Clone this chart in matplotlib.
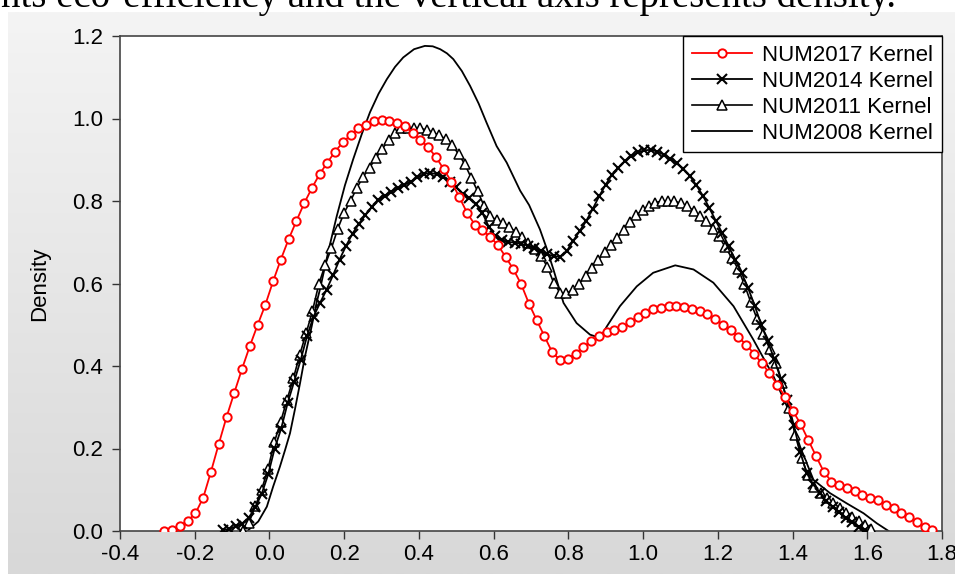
import numpy as np
import matplotlib
matplotlib.use("Agg")
import matplotlib.pyplot as plt

plt.rcParams['font.family'] = ['Liberation Sans', 'DejaVu Sans']

# ---------------- data ----------------
labels = ["NUM2017 Kernel", "NUM2014 Kernel", "NUM2011 Kernel", "NUM2008 Kernel"]

# evaluation grid ends (100 evenly spaced kernel points per series)
grid2017 = (-0.281, 1.774)
grid2014 = (-0.125, 1.594)
grid2011 = (-0.072, 1.611)

y2017 = [0.000, 0.002, 0.012, 0.025, 0.043, 0.081, 0.144, 0.211, 0.276, 0.335,
         0.393, 0.448, 0.499, 0.548, 0.605, 0.658, 0.707, 0.751, 0.794, 0.831,
         0.865, 0.893, 0.920, 0.942, 0.960, 0.976, 0.985, 0.993, 0.996, 0.994,
         0.988, 0.981, 0.966, 0.948, 0.930, 0.907, 0.877, 0.847, 0.810, 0.772,
         0.743, 0.729, 0.713, 0.693, 0.664, 0.634, 0.598, 0.551, 0.511, 0.472,
         0.433, 0.415, 0.417, 0.430, 0.446, 0.460, 0.472, 0.483, 0.488, 0.494,
         0.506, 0.519, 0.529, 0.537, 0.541, 0.545, 0.546, 0.543, 0.538, 0.533,
         0.527, 0.514, 0.500, 0.487, 0.470, 0.452, 0.430, 0.407, 0.383, 0.355,
         0.326, 0.292, 0.260, 0.221, 0.182, 0.144, 0.120, 0.112, 0.104, 0.096,
         0.087, 0.081, 0.074, 0.063, 0.055, 0.044, 0.033, 0.023, 0.010, 0.002]

y2014 = [0.002, 0.005, 0.011, 0.018, 0.032, 0.057, 0.090, 0.137, 0.200, 0.248,
         0.310, 0.362, 0.414, 0.473, 0.520, 0.553, 0.585, 0.620, 0.658, 0.691,
         0.721, 0.745, 0.766, 0.786, 0.802, 0.813, 0.823, 0.831, 0.839, 0.847,
         0.857, 0.866, 0.868, 0.865, 0.858, 0.846, 0.833, 0.818, 0.807, 0.793,
         0.772, 0.738, 0.715, 0.705, 0.701, 0.699, 0.696, 0.692, 0.686, 0.679,
         0.671, 0.666, 0.665, 0.678, 0.703, 0.727, 0.751, 0.780, 0.811, 0.839,
         0.864, 0.881, 0.897, 0.909, 0.918, 0.923, 0.924, 0.920, 0.912, 0.903,
         0.891, 0.878, 0.861, 0.838, 0.813, 0.783, 0.752, 0.722, 0.690, 0.657,
         0.625, 0.588, 0.546, 0.500, 0.460, 0.417, 0.369, 0.318, 0.258, 0.192,
         0.141, 0.113, 0.093, 0.073, 0.058, 0.045, 0.032, 0.021, 0.010, 0.002]

y2011 = [0.000, 0.020, 0.060, 0.100, 0.150, 0.215, 0.265, 0.318, 0.370, 0.427,
         0.479, 0.533, 0.598, 0.645, 0.686, 0.733, 0.772, 0.800, 0.832, 0.859,
         0.881, 0.904, 0.927, 0.947, 0.966, 0.976, 0.978, 0.978, 0.976, 0.972,
         0.966, 0.959, 0.950, 0.935, 0.914, 0.889, 0.856, 0.824, 0.789, 0.763,
         0.754, 0.747, 0.737, 0.725, 0.713, 0.699, 0.683, 0.667, 0.640, 0.601,
         0.577, 0.576, 0.585, 0.600, 0.618, 0.637, 0.657, 0.676, 0.694, 0.711,
         0.730, 0.750, 0.766, 0.778, 0.789, 0.796, 0.800, 0.800, 0.800, 0.794,
         0.788, 0.776, 0.763, 0.752, 0.733, 0.714, 0.688, 0.663, 0.636, 0.598,
         0.555, 0.514, 0.478, 0.441, 0.408, 0.358, 0.297, 0.233, 0.178, 0.135,
         0.106, 0.091, 0.079, 0.067, 0.056, 0.044, 0.035, 0.025, 0.014, 0.006]

x2008 = [-0.057, -0.030, -0.007, 0.010, 0.028, 0.042, 0.055, 0.068, 0.082, 0.095,
         0.113, 0.126, 0.135, 0.158, 0.180, 0.202, 0.224, 0.247, 0.269, 0.292,
         0.314, 0.336, 0.358, 0.387, 0.416, 0.437, 0.457, 0.475, 0.492, 0.515,
         0.537, 0.560, 0.581, 0.608, 0.635, 0.671, 0.695, 0.724, 0.742, 0.760,
         0.787, 0.822, 0.858, 0.885, 0.903, 0.938, 0.983, 1.027, 1.086, 1.135,
         1.188, 1.242, 1.295, 1.349, 1.385, 1.420, 1.456, 1.500, 1.545, 1.590,
         1.625, 1.657]
y2008 = [0.002, 0.023, 0.059, 0.108, 0.156, 0.197, 0.237, 0.294, 0.359, 0.423,
         0.496, 0.553, 0.585, 0.680, 0.763, 0.838, 0.901, 0.962, 1.015, 1.060,
         1.095, 1.125, 1.148, 1.168, 1.176, 1.175, 1.168, 1.158, 1.144, 1.115,
         1.079, 1.036, 0.990, 0.933, 0.893, 0.825, 0.790, 0.731, 0.685, 0.634,
         0.553, 0.504, 0.476, 0.468, 0.496, 0.545, 0.593, 0.626, 0.644, 0.634,
         0.602, 0.545, 0.464, 0.375, 0.302, 0.205, 0.124, 0.092, 0.067, 0.043,
         0.019, 0.000]

xticks = [-0.4, -0.2, 0.0, 0.2, 0.4, 0.6, 0.8, 1.0, 1.2, 1.4, 1.6, 1.8]
yticks = [0.0, 0.2, 0.4, 0.6, 0.8, 1.0, 1.2]
ylabel = "Density"
caption = "nts eco-efficiency and the vertical axis represents density."

# ---------------- figure ----------------
W, H = 955, 574
fig = plt.figure(figsize=(W / 100, H / 100), dpi=100)
fig.patch.set_facecolor("white")

# gray gradient panel behind the chart
bg = fig.add_axes([8 / W, 0, 1 - 8 / W, (H - 12) / H])
grad = np.linspace(244, 216, 256).reshape(-1, 1) / 255.0
bg.imshow(np.dstack([grad, grad, grad]), aspect="auto", extent=[0, 1, 0, 1],
          origin="upper")
bg.set_axis_off()

# cut-off caption line at the very top
fig.text(1 / W, 1 - 6.5 / H, caption, family="Liberation Serif", fontsize=28,
         va="baseline", ha="left", color="black")

ax = fig.add_axes([120 / W, 1 - 531 / H, (942 - 120) / W, (531 - 36) / H])
ax.set_facecolor("white")

x2017 = np.linspace(grid2017[0], grid2017[1], len(y2017))
x2014 = np.linspace(grid2014[0], grid2014[1], len(y2014))
x2011 = np.linspace(grid2011[0], grid2011[1], len(y2011))

l08, = ax.plot(x2008, y2008, color="black", lw=1.3, zorder=2)
l11, = ax.plot(x2011, y2011, color="black", lw=1.2, marker="^", ms=6.5,
               mfc="white", mec="black", mew=1.1, zorder=3)
l14, = ax.plot(x2014, y2014, color="black", lw=1.3, marker="x", ms=6.5,
               mec="black", mew=1.5, zorder=4)
l17, = ax.plot(x2017, y2017, color="red", lw=1.3, marker="o", ms=6,
               mfc="white", mec="red", mew=1.4, zorder=5)

ax.set_xlim(-0.4, 1.8)
ax.set_ylim(0, 1.2)
ax.set_xticks(xticks)
ax.set_xticklabels([f"{t:.1f}" for t in xticks])
ax.set_yticks(yticks)
ax.set_yticklabels([f"{t:.1f}" for t in yticks])
ax.tick_params(direction="out", length=6, width=1, labelsize=16, color="#333333")
ax.tick_params(axis="y", pad=6)
ax.tick_params(axis="x", pad=3)
for s in ax.spines.values():
    s.set_color("#444444")
    s.set_linewidth(1.2)

ax.set_ylabel(ylabel, fontsize=16)
ax.yaxis.set_label_coords(-0.085, 0.5)

leg = ax.legend([l17, l14, l11, l08], labels, loc="upper right", fontsize=16,
                numpoints=1, frameon=True, fancybox=False, framealpha=1,
                edgecolor="black", borderaxespad=0, handlelength=2.7,
                handletextpad=0.45, labelspacing=0.22, borderpad=0.4)
leg.get_frame().set_linewidth(1.0)

fig.savefig("out.png", dpi=100, facecolor=fig.get_facecolor())
